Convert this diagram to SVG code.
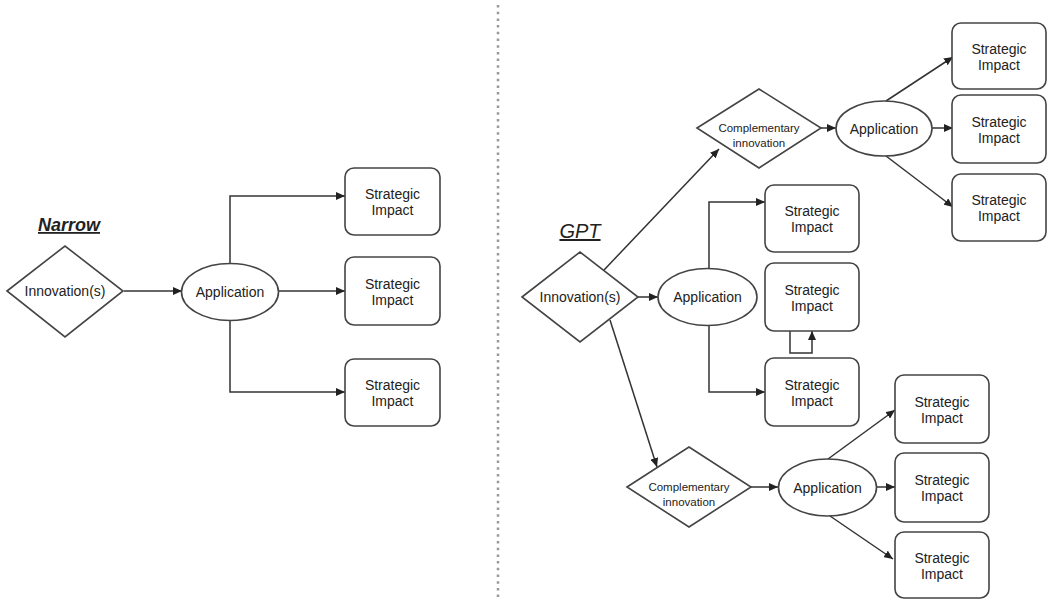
<svg xmlns="http://www.w3.org/2000/svg" width="1048" height="600" viewBox="0 0 1048 600">
<defs>
<marker id="arr" markerUnits="userSpaceOnUse" markerWidth="10" markerHeight="8" refX="9" refY="4" orient="auto">
<path d="M0,0 L9,4 L0,8 Z" fill="#222"/>
</marker>
<style>
.shape{fill:#fff;stroke:#444;stroke-width:1.6}
.edge{fill:none;stroke:#333;stroke-width:1.5;marker-end:url(#arr)}
.t{font-family:"Liberation Sans",Arial,sans-serif;font-size:14px;fill:#222;text-anchor:middle}
.s{font-family:"Liberation Sans",Arial,sans-serif;font-size:11.5px;fill:#222;text-anchor:middle}
.title{font-family:"Liberation Sans",Arial,sans-serif;font-style:italic;fill:#222;text-anchor:middle;text-decoration:underline}
</style>
</defs>
<rect width="1048" height="600" fill="#fff"/>
<line x1="498" y1="5" x2="498" y2="597" stroke="#999" stroke-width="2.5" stroke-dasharray="2.5 4.2"/>
<text class="title" x="69" y="231" font-size="18" font-weight="bold">Narrow</text>
<text class="title" x="580" y="238" font-size="20">GPT</text>
<g id="connectors">
<path class="edge" d="M124,291 H182"/>
<path class="edge" d="M230,263 V196 H345"/>
<path class="edge" d="M279,291 H345"/>
<path class="edge" d="M230,320 V392 H345"/>
<path class="edge" d="M638,297 H658"/>
<path class="edge" d="M604,270 L719,149"/>
<path class="edge" d="M610,320 L657,467"/>
<path class="edge" d="M709,268 V202 H765"/>
<path class="edge" d="M709,325 V392 H765"/>
<path class="edge" d="M790,331 V353 H812 V331"/>
<path class="edge" d="M821,128 H836"/>
<path class="edge" d="M886,101 L953,57"/>
<path class="edge" d="M932,128 H953"/>
<path class="edge" d="M886,156 L953,207"/>
<path class="edge" d="M751,487 H778"/>
<path class="edge" d="M828,459 L895,410"/>
<path class="edge" d="M876,487 H895"/>
<path class="edge" d="M830,516 L893,559"/>
</g>
<g id="n-innov-left"><polygon class="shape" points="7,291 65,246 123,291 65,337"/><text class="t" x="65" y="296">Innovation(s)</text></g>
<g id="n-app-left"><ellipse class="shape" cx="230" cy="292" rx="48.5" ry="28.5"/><text class="t" x="230" y="297">Application</text></g>
<g id="n-si-l1"><rect class="shape" x="345" y="168" width="95" height="67" rx="9"/><text class="t" x="392.5" y="199">Strategic</text><text class="t" x="392.5" y="215">Impact</text></g>
<g id="n-si-l2"><rect class="shape" x="345" y="257" width="95" height="68" rx="9"/><text class="t" x="392.5" y="288.5">Strategic</text><text class="t" x="392.5" y="304.5">Impact</text></g>
<g id="n-si-l3"><rect class="shape" x="345" y="359" width="95" height="67" rx="9"/><text class="t" x="392.5" y="390">Strategic</text><text class="t" x="392.5" y="406">Impact</text></g>
<g id="n-innov-gpt"><polygon class="shape" points="522,297 580,252 638,297 580,342"/><text class="t" x="580" y="302">Innovation(s)</text></g>
<g id="n-app-mid"><ellipse class="shape" cx="707.5" cy="297" rx="49.5" ry="28.5"/><text class="t" x="707.5" y="302">Application</text></g>
<g id="n-si-m1"><rect class="shape" x="765" y="185" width="94" height="67" rx="9"/><text class="t" x="812" y="216">Strategic</text><text class="t" x="812" y="232">Impact</text></g>
<g id="n-si-m2"><rect class="shape" x="765" y="263" width="94" height="68" rx="9"/><text class="t" x="812" y="294.5">Strategic</text><text class="t" x="812" y="310.5">Impact</text></g>
<g id="n-si-m3"><rect class="shape" x="765" y="358" width="94" height="68" rx="9"/><text class="t" x="812" y="389.5">Strategic</text><text class="t" x="812" y="405.5">Impact</text></g>
<g id="n-comp-top"><polygon class="shape" points="697,128 759,89 821,128 759,168"/><text class="s" x="759" y="132">Complementary</text><text class="s" x="759" y="147">innovation</text></g>
<g id="n-app-top"><ellipse class="shape" cx="884" cy="128.5" rx="48" ry="27.5"/><text class="t" x="884" y="133.5">Application</text></g>
<g id="n-si-t1"><rect class="shape" x="952" y="23" width="94" height="66" rx="9"/><text class="t" x="999" y="53.5">Strategic</text><text class="t" x="999" y="69.5">Impact</text></g>
<g id="n-si-t2"><rect class="shape" x="952" y="95" width="94" height="68" rx="9"/><text class="t" x="999" y="126.5">Strategic</text><text class="t" x="999" y="142.5">Impact</text></g>
<g id="n-si-t3"><rect class="shape" x="952" y="174" width="94" height="67" rx="9"/><text class="t" x="999" y="205">Strategic</text><text class="t" x="999" y="221">Impact</text></g>
<g id="n-comp-bot"><polygon class="shape" points="627,487 689,447 751,487 689,527"/><text class="s" x="689" y="491">Complementary</text><text class="s" x="689" y="506">innovation</text></g>
<g id="n-app-bot"><ellipse class="shape" cx="827.5" cy="487.5" rx="49" ry="28.5"/><text class="t" x="827.5" y="492.5">Application</text></g>
<g id="n-si-b1"><rect class="shape" x="895" y="375" width="94" height="68" rx="9"/><text class="t" x="942" y="406.5">Strategic</text><text class="t" x="942" y="422.5">Impact</text></g>
<g id="n-si-b2"><rect class="shape" x="895" y="453" width="94" height="69" rx="9"/><text class="t" x="942" y="485">Strategic</text><text class="t" x="942" y="501">Impact</text></g>
<g id="n-si-b3"><rect class="shape" x="895" y="532" width="94" height="66" rx="9"/><text class="t" x="942" y="562.5">Strategic</text><text class="t" x="942" y="578.5">Impact</text></g>
</svg>
